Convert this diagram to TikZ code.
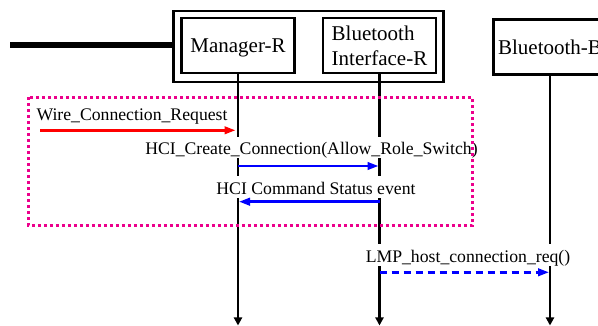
\documentclass[tikz,border=0pt]{standalone}
\usepackage{fontspec}
\setmainfont{Liberation Serif}
\usetikzlibrary{arrows.meta}
\newcommand\boxfont{\fontsize{21}{25}\selectfont}
\newcommand\msgfont{\fontsize{17.7}{21}\selectfont}
\tikzset{
  lbox/.style={draw, line width=2.3pt, minimum width=113pt, minimum height=55pt, inner sep=0pt, text depth=0pt, font=\boxfont},
  grpbox/.style={draw, line width=2.3pt, minimum width=270pt, minimum height=71pt, inner sep=0pt},
  life/.style={line width=2.7pt, -{Triangle[length=8pt,width=8pt]}},
  msg/.style={line width=2.5pt, -{Triangle[length=11pt,width=7.5pt]}, shorten >=1pt},
  lab/.style={font=\msgfont, fill=white, inner sep=0pt, text height=18pt, text depth=3.5pt, anchor=base},
  dotbox/.style={draw=magenta, line width=3pt, dash pattern=on 3pt off 3pt},
}
\begin{document}
\begin{tikzpicture}[x=1pt,y=-1pt]
\useasboundingbox (0,0) rectangle (598,326);
\clip (0,0) rectangle (598,326);
% group box and participants
\node[grpbox] (outer) at (308.5,46.5) {};
\node[lbox] (mgr) at (238,45.7) {Manager-R};
\node[lbox, align=left] (bif) at (379.5,45.7) {Bluetooth\\[-0.3pt]Interface-R};
\node[lbox] (btb) at (550,47) {Bluetooth-B};
% thick wire
\coordinate (wire) at (10,44.7);
\draw[line width=6pt] (wire) -- (wire -| outer.west);
% lifelines
\coordinate (bottom) at (0,325.5);
\draw[life] (mgr.south) -- (mgr.south |- bottom);
\draw[life] (bif.south) -- (bif.south |- bottom);
\draw[life] (btb.south) -- (btb.south |- bottom);
% labels
\node[lab] (lwire) at (132,120.7) {Wire\_Connection\_Request};
\node[lab] (lcreate) at (311.5,155) {HCI\_Create\_Connection(Allow\_Role\_Switch)};
\node[lab] (lstatus) at (316,194.3) {HCI Command Status event};
\node[lab] (llmp) at (468,262.3) {LMP\_host\_connection\_req()};
% messages
\coordinate (wstart) at (40,130.3);
\coordinate (y1) at (0,166);
\coordinate (y2) at (0,201.7);
\coordinate (y3) at (0,272.3);
\draw[msg, red, shorten >=2.5pt] (wstart) -- (wstart -| mgr.south);
\draw[msg, blue] (y1 -| mgr.south) -- (y1 -| bif.south);
\draw[msg, blue] (y2 -| bif.south) -- (y2 -| mgr.south);
\draw[msg, blue, dash pattern=on 7pt off 5pt] (y3 -| bif.south) -- (y3 -| btb.south);
% dotted region
\coordinate (dtl) at (28.3,97.3);
\coordinate (dbr) at (472.3,225.7);
\draw[dotbox] (dtl) rectangle (dbr);
\end{tikzpicture}
\end{document}
